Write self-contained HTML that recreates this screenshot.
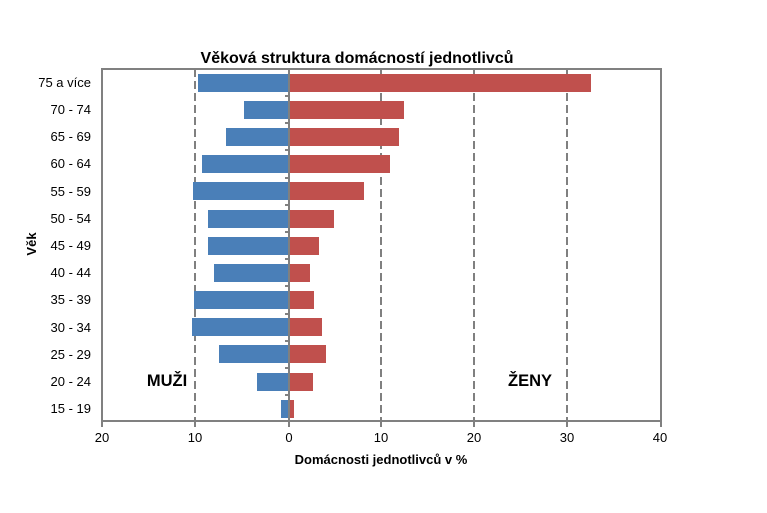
<!DOCTYPE html>
<html><head><meta charset="utf-8"><style>body{margin:0;background:#fff}svg{display:block}</style></head><body>
<svg width="767" height="513" viewBox="0 0 767 513" xmlns="http://www.w3.org/2000/svg" font-family="'Liberation Sans', Arial, sans-serif">
<rect width="767" height="513" fill="#fff"/>
<text x="357" y="63" text-anchor="middle" font-size="16" font-weight="bold" fill="#000">Věková struktura domácností jednotlivců</text>
<g stroke="#808080" stroke-width="2" stroke-dasharray="8,4">
<line x1="195" y1="69" x2="195" y2="421"/>
<line x1="381" y1="69" x2="381" y2="421"/>
<line x1="474" y1="69" x2="474" y2="421"/>
<line x1="567" y1="69" x2="567" y2="421"/>
</g>
<g fill="#4a7fb8">
<rect x="198" y="74" width="91" height="18"/>
<rect x="244" y="101" width="45" height="18"/>
<rect x="226" y="128" width="63" height="18"/>
<rect x="202" y="155" width="87" height="18"/>
<rect x="193" y="182" width="96" height="18"/>
<rect x="208" y="210" width="81" height="18"/>
<rect x="208" y="237" width="81" height="18"/>
<rect x="214" y="264" width="75" height="18"/>
<rect x="194" y="291" width="95" height="18"/>
<rect x="192" y="318" width="97" height="18"/>
<rect x="219" y="345" width="70" height="18"/>
<rect x="257" y="373" width="32" height="18"/>
<rect x="281" y="400" width="8" height="18"/>
</g>
<g fill="#c0504d">
<rect x="289" y="74" width="302" height="18"/>
<rect x="289" y="101" width="115" height="18"/>
<rect x="289" y="128" width="110" height="18"/>
<rect x="289" y="155" width="101" height="18"/>
<rect x="289" y="182" width="75" height="18"/>
<rect x="289" y="210" width="45" height="18"/>
<rect x="289" y="237" width="30" height="18"/>
<rect x="289" y="264" width="21" height="18"/>
<rect x="289" y="291" width="25" height="18"/>
<rect x="289" y="318" width="33" height="18"/>
<rect x="289" y="345" width="37" height="18"/>
<rect x="289" y="373" width="24" height="18"/>
<rect x="289" y="400" width="5" height="18"/>
</g>
<g stroke="#808080" stroke-width="2" fill="none">
<rect x="102" y="69" width="559" height="352"/>
<line x1="289" y1="69" x2="289" y2="421"/>
<line x1="102" y1="421" x2="102" y2="427"/>
<line x1="195" y1="421" x2="195" y2="427"/>
<line x1="289" y1="421" x2="289" y2="427"/>
<line x1="381" y1="421" x2="381" y2="427"/>
<line x1="474" y1="421" x2="474" y2="427"/>
<line x1="567" y1="421" x2="567" y2="427"/>
<line x1="661" y1="421" x2="661" y2="427"/>
<line x1="285" y1="96" x2="289" y2="96"/><line x1="285" y1="123" x2="289" y2="123"/><line x1="285" y1="150" x2="289" y2="150"/><line x1="285" y1="178" x2="289" y2="178"/><line x1="285" y1="205" x2="289" y2="205"/><line x1="285" y1="232" x2="289" y2="232"/><line x1="285" y1="259" x2="289" y2="259"/><line x1="285" y1="286" x2="289" y2="286"/><line x1="285" y1="314" x2="289" y2="314"/><line x1="285" y1="341" x2="289" y2="341"/><line x1="285" y1="368" x2="289" y2="368"/><line x1="285" y1="395" x2="289" y2="395"/>
</g>
<g font-size="13" fill="#000" text-anchor="end">
<text x="91" y="87">75 a více</text>
<text x="91" y="114">70 - 74</text>
<text x="91" y="141">65 - 69</text>
<text x="91" y="168">60 - 64</text>
<text x="91" y="196">55 - 59</text>
<text x="91" y="223">50 - 54</text>
<text x="91" y="250">45 - 49</text>
<text x="91" y="277">40 - 44</text>
<text x="91" y="304">35 - 39</text>
<text x="91" y="332">30 - 34</text>
<text x="91" y="359">25 - 29</text>
<text x="91" y="386">20 - 24</text>
<text x="91" y="413">15 - 19</text>
</g>
<g font-size="13" fill="#000" text-anchor="middle">
<text x="102" y="442">20</text>
<text x="195" y="442">10</text>
<text x="289" y="442">0</text>
<text x="381" y="442">10</text>
<text x="474" y="442">20</text>
<text x="567" y="442">30</text>
<text x="660" y="442">40</text>
</g>
<text x="381" y="464" text-anchor="middle" font-size="13" font-weight="bold">Domácnosti jednotlivců v %</text>
<text transform="translate(36,244) rotate(-90)" text-anchor="middle" font-size="13" font-weight="bold">Věk</text>
<text x="167" y="386" text-anchor="middle" font-size="16.5" font-weight="bold">MUŽI</text>
<text x="530" y="386" text-anchor="middle" font-size="16.5" font-weight="bold">ŽENY</text>
</svg>
</body></html>
